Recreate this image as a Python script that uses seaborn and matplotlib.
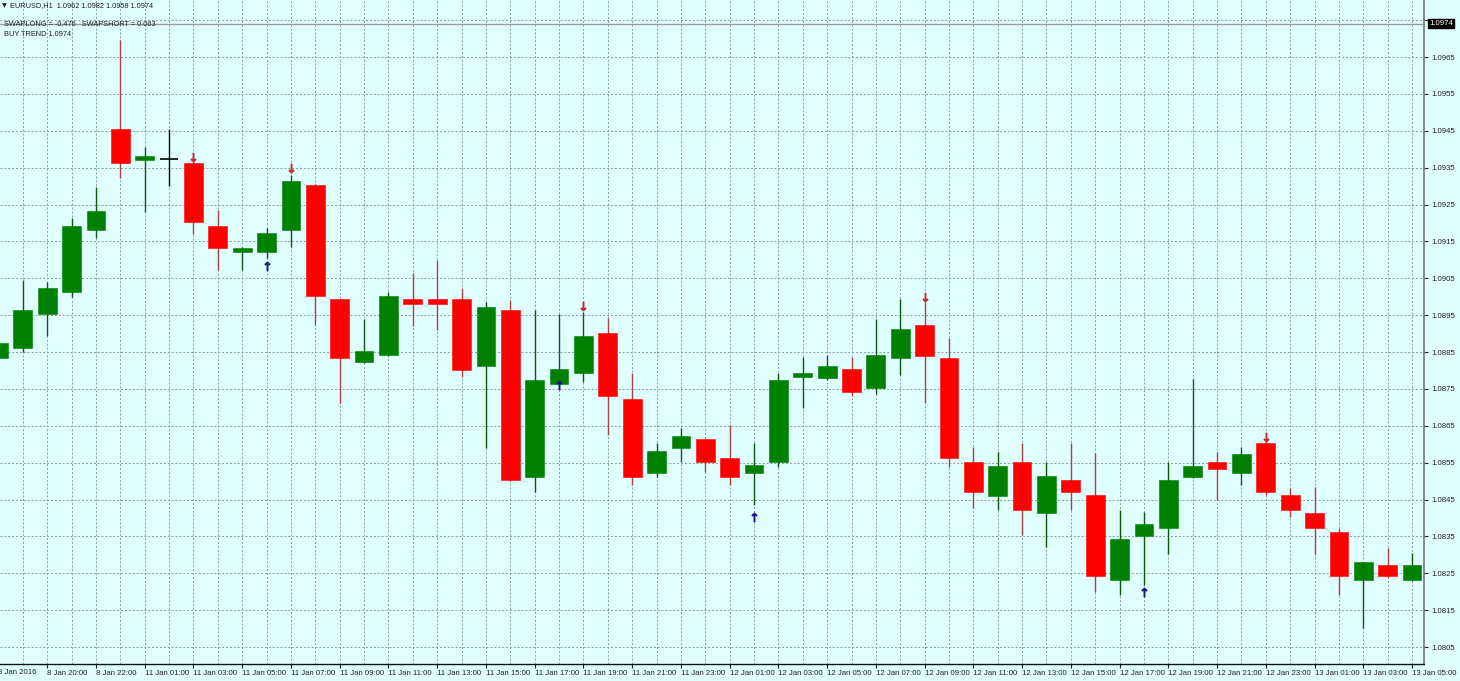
import matplotlib
matplotlib.use("Agg")
import matplotlib.pyplot as plt
import seaborn as sns
import pandas as pd
from matplotlib.transforms import blended_transform_factory

# ---- data (EURUSD H1) ----
opens = [1.08834, 1.08861, 1.08953, 1.09013, 1.09181, 1.09455, 1.09371, 1.09373, 1.09363, 1.09192,
         1.09121, 1.09121, 1.09181, 1.09303, 1.08994, 1.08823, 1.08842, 1.08994, 1.08994, 1.08994,
         1.08812, 1.08964, 1.08511, 1.08763, 1.08793, 1.08902, 1.08723, 1.08522, 1.08590, 1.08614,
         1.08562, 1.08522, 1.08552, 1.08782, 1.08780, 1.08804, 1.08752, 1.08834, 1.08923, 1.08834,
         1.08552, 1.08459, 1.08552, 1.08413, 1.08503, 1.08462, 1.08232, 1.08350, 1.08373, 1.08511,
         1.08552, 1.08522, 1.08603, 1.08462, 1.08413, 1.08362, 1.08232, 1.08272, 1.08232]
highs = [1.08880, 1.09045, 1.09040, 1.09213, 1.09297, 1.09696, 1.09406, 1.09455, 1.09368, 1.09235,
         1.09135, 1.09186, 1.09330, 1.09305, 1.08995, 1.08939, 1.09013, 1.09064, 1.09100, 1.09024,
         1.08986, 1.08991, 1.08964, 1.08953, 1.08958, 1.08942, 1.08793, 1.08603, 1.08644, 1.08615,
         1.08652, 1.08603, 1.08793, 1.08836, 1.08842, 1.08836, 1.08939, 1.08994, 1.08986, 1.08888,
         1.08592, 1.08579, 1.08603, 1.08552, 1.08603, 1.08576, 1.08421, 1.08416, 1.08552, 1.08777,
         1.08579, 1.08592, 1.08611, 1.08481, 1.08484, 1.08373, 1.08281, 1.08318, 1.08305]
lows = [1.08820, 1.08850, 1.08893, 1.08999, 1.09159, 1.09322, 1.09230, 1.09300, 1.09170, 1.09072,
        1.09072, 1.09105, 1.09135, 1.08923, 1.08712, 1.08820, 1.08840, 1.08920, 1.08910, 1.08782,
        1.08590, 1.08500, 1.08470, 1.08760, 1.08769, 1.08625, 1.08489, 1.08511, 1.08552, 1.08525,
        1.08489, 1.08435, 1.08538, 1.08698, 1.08774, 1.08731, 1.08736, 1.08788, 1.08712, 1.08538,
        1.08427, 1.08421, 1.08354, 1.08321, 1.08421, 1.08199, 1.08191, 1.08218, 1.08302, 1.08508,
        1.08449, 1.08489, 1.08462, 1.08403, 1.08302, 1.08191, 1.08102, 1.08240, 1.08230]
closes = [1.08874, 1.08964, 1.09024, 1.09192, 1.09232, 1.09363, 1.09382, 1.09373, 1.09203, 1.09132,
          1.09132, 1.09173, 1.09314, 1.09002, 1.08834, 1.08853, 1.09002, 1.08980, 1.08980, 1.08801,
          1.08972, 1.08503, 1.08774, 1.08804, 1.08893, 1.08731, 1.08511, 1.08581, 1.08622, 1.08552,
          1.08511, 1.08544, 1.08774, 1.08793, 1.08812, 1.08742, 1.08842, 1.08912, 1.08839, 1.08562,
          1.08470, 1.08541, 1.08421, 1.08514, 1.08470, 1.08243, 1.08343, 1.08384, 1.08503, 1.08541,
          1.08533, 1.08573, 1.08470, 1.08421, 1.08373, 1.08243, 1.08280, 1.08243, 1.08272]

time_labels = ["8 Jan 2016", "8 Jan 20:00", "8 Jan 22:00",
               "11 Jan 01:00", "11 Jan 03:00", "11 Jan 05:00", "11 Jan 07:00", "11 Jan 09:00",
               "11 Jan 11:00", "11 Jan 13:00", "11 Jan 15:00", "11 Jan 17:00", "11 Jan 19:00",
               "11 Jan 21:00", "11 Jan 23:00",
               "12 Jan 01:00", "12 Jan 03:00", "12 Jan 05:00", "12 Jan 07:00", "12 Jan 09:00",
               "12 Jan 11:00", "12 Jan 13:00", "12 Jan 15:00", "12 Jan 17:00", "12 Jan 19:00",
               "12 Jan 21:00", "12 Jan 23:00",
               "13 Jan 01:00", "13 Jan 03:00", "13 Jan 05:00"]

sell_bars = [8, 12, 24, 38, 52]
sell_levels = [1.09379, 1.09349, 1.08975, 1.08999, 1.08619]
buy_bars = [11, 23, 31, 47]
buy_levels = [1.09083, 1.08760, 1.08402, 1.08199]

price_ticks = [1.0805, 1.0815, 1.0825, 1.0835, 1.0845, 1.0855, 1.0865, 1.0875, 1.0885,
               1.0895, 1.0905, 1.0915, 1.0925, 1.0935, 1.0945, 1.0955, 1.0965, 1.0975]
bid_price = 1.0974

header = "EURUSD,H1  1.0962 1.0982 1.0958 1.0974"
swap_text = "SWAPLONG = -0.476   SWAPSHORT = 0.063"
trend_text = "BUY TREND 1.0974"

# ---- style ----
sns.set_theme(style="white")
plt.rcParams['font.family'] = ['Liberation Sans', 'DejaVu Sans']

BG = '#e0ffff'
UP = '#008000'
DOWN = '#ff0000'
GRID = '#8a9a9a'
FS = 5.6

df = pd.DataFrame({'o': opens, 'h': highs, 'l': lows, 'c': closes})
df['i'] = range(len(df))
df['bull'] = df['c'] > df['o']
df['doji'] = (df['c'] - df['o']).abs() < 1e-6

W, H = 1460, 681
fig = plt.figure(figsize=(W / 100, H / 100), dpi=100, facecolor=BG)
ax = fig.add_axes([0, 17 / H, 1424 / W, 664 / H])
ax.set_facecolor(BG)

# grid
ax.set_xticks(range(len(df)), minor=True)
ax.set_xticks(range(2, len(df), 2))
ax.set_xticklabels(time_labels[1:])
ax.set_yticks(price_ticks)
# the top level label sits under the bid price box, as in the terminal
ax.set_yticklabels([f"{v:.4f}" if abs(v - bid_price) > 0.0003 else "" for v in price_ticks])
ax.grid(True, which='both', axis='x', color=GRID, linestyle=(0, (2, 2)), linewidth=0.7)
ax.grid(True, which='major', axis='y', color=GRID, linestyle=(0, (2, 2)), linewidth=0.7)
ax.set_axisbelow(True)

# candles
bw = 0.77
for _, r in df.iterrows():
    if r['doji']:
        col, wcol = 'black', 'black'
    elif r['bull']:
        col, wcol = UP, '#0a5a0a'
    else:
        col, wcol = DOWN, '#b04040'
    ax.vlines(r['i'], r['l'], r['h'], color=wcol, linewidth=1.0, zorder=2)
    if r['doji']:
        ax.hlines(r['o'], r['i'] - bw / 2, r['i'] + bw / 2, color=col, linewidth=1.2, zorder=3)
    else:
        lo = min(r['o'], r['c'])
        ax.bar(r['i'], abs(r['c'] - r['o']), bottom=lo, width=bw, color=col,
               edgecolor=col, linewidth=0.4, zorder=3)

# signal arrows
sns.scatterplot(x=sell_bars, y=sell_levels, marker=r'$\downarrow$', s=40, color='#c03030',
                edgecolor='#c03030', linewidth=0.7, ax=ax, zorder=4)
sns.scatterplot(x=buy_bars, y=buy_levels, marker=r'$\uparrow$', s=40, color='#1a1a8a',
                edgecolor='#1a1a8a', linewidth=0.7, ax=ax, zorder=4)

# bid line
ax.axhline(bid_price, color='#9a9a9a', linewidth=1.0, zorder=1)

ax.set_xlim(0.0616, 58.49)
ax.set_ylim(1.080039, 1.098046)

ax.yaxis.tick_right()
ax.tick_params(axis='y', which='major', right=True, left=False, length=3, width=0.8,
               labelsize=FS, pad=2, colors='#202020')
ax.tick_params(axis='x', which='major', bottom=True, length=3, width=0.8,
               labelsize=FS, pad=1.5, colors='#202020')
ax.tick_params(axis='x', which='minor', bottom=False, length=0)
for lab in ax.get_xticklabels():
    lab.set_ha('left')

for s in ['top', 'left']:
    ax.spines[s].set_visible(False)
ax.spines['right'].set_color('#707878')
ax.spines['right'].set_linewidth(1.2)
ax.spines['bottom'].set_color('#101010')
ax.spines['bottom'].set_linewidth(1.0)

ax.annotate(time_labels[0], xy=(0, 0), xycoords=('data', 'axes fraction'),
            xytext=(0, -3.6), textcoords='offset points', ha='left', va='top',
            fontsize=FS, color='#202020', annotation_clip=False)

# bid price label box on the axis
tr = blended_transform_factory(ax.transAxes, ax.transData)
ax.text(1.0035, bid_price, f"{bid_price:.4f}", transform=tr, ha='left', va='center',
        fontsize=FS, color='white', zorder=6, clip_on=False,
        bbox=dict(boxstyle='square,pad=0.15', facecolor='black', edgecolor='black'))

# header texts
fig.text(2 / W, 1 - 6 / H, "▼", fontsize=4.5, va='center', ha='left', color='#202020',
         family=['DejaVu Sans'])
fig.text(10 / W, 1 - 6 / H, header, fontsize=5.3, va='center', ha='left', color='#202020')
fig.text(4 / W, 1 - 24 / H, swap_text, fontsize=5.3, va='center', ha='left', color='#202020')
fig.text(4 / W, 1 - 34 / H, trend_text, fontsize=5.3, va='center', ha='left', color='#202020')

fig.savefig("out.png", dpi=100, facecolor=BG)
